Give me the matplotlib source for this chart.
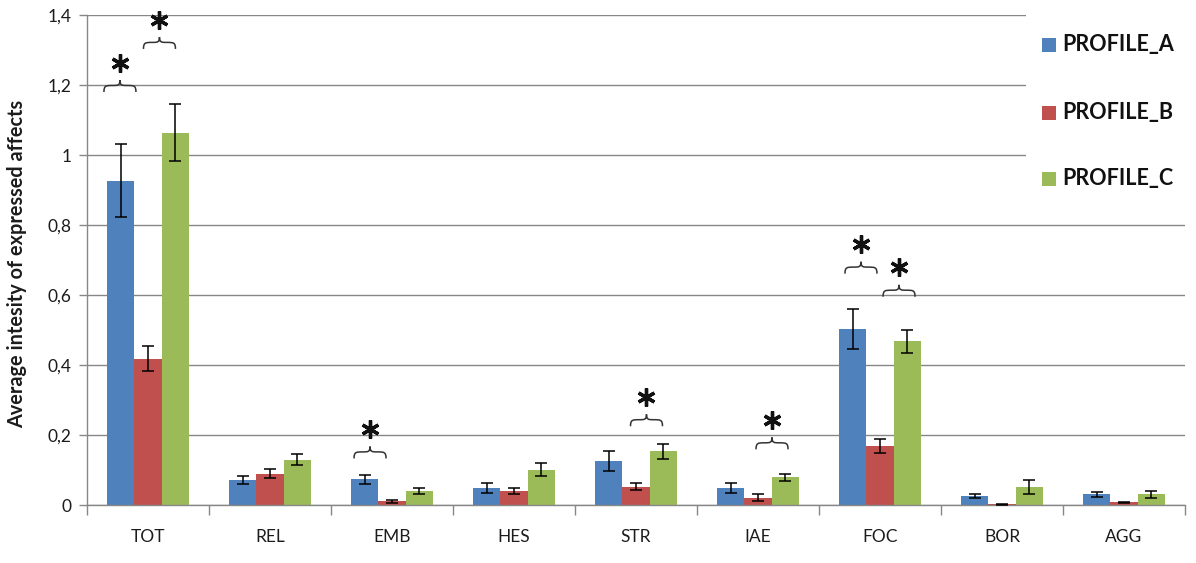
import matplotlib
matplotlib.use("Agg")
import matplotlib.pyplot as plt
import numpy as np
from matplotlib.path import Path
from matplotlib.patches import PathPatch, Rectangle

categories = ["TOT", "REL", "EMB", "HES", "STR", "IAE", "FOC", "BOR", "AGG"]
series_names = ["PROFILE_A", "PROFILE_B", "PROFILE_C"]
profile_a = [0.927, 0.072, 0.073, 0.049, 0.126, 0.049, 0.504, 0.025, 0.031]
profile_b = [0.418, 0.090, 0.011, 0.040, 0.052, 0.021, 0.169, 0.002, 0.008]
profile_c = [1.064, 0.130, 0.040, 0.101, 0.153, 0.080, 0.468, 0.051, 0.031]
err_a = [0.105, 0.011, 0.012, 0.014, 0.029, 0.014, 0.057, 0.006, 0.007]
err_b = [0.035, 0.013, 0.004, 0.008, 0.010, 0.0095, 0.020, 0.001, 0.002]
err_c = [0.082, 0.017, 0.008, 0.019, 0.022, 0.010, 0.033, 0.020, 0.010]
y_ticks = [0, 0.2, 0.4, 0.6, 0.8, 1.0, 1.2, 1.4]
y_tick_labels = ["0", "0,2", "0,4", "0,6", "0,8", "1", "1,2", "1,4"]

# significance marks: category index, horizontal offset (category units), brace tip height
sig_cat = [0, 0, 2, 4, 5, 6, 6]
sig_off = [-0.23, 0.094, -0.18, 0.086, 0.115, -0.156, 0.156]
sig_tip = [1.214, 1.337, 0.167, 0.259, 0.193, 0.695, 0.629]

colors = ["#4F81BD", "#C0504D", "#9BBB59"]
grid_col = "#878787"
txt_col = "#1c1c1c"

plt.rcParams["font.family"] = ["Lato", "DejaVu Sans"]

W, H = 1196, 563
fig = plt.figure(figsize=(W / 100, H / 100), dpi=100)
ax = fig.add_axes([87 / W, 1 - 505 / H, 1098 / W, 490 / H])

x = np.arange(len(categories)) + 0.5
bw = 0.224
vals = [profile_a, profile_b, profile_c]
errs = [err_a, err_b, err_c]
bars = []
for i, (v, e) in enumerate(zip(vals, errs)):
    xs = x + (i - 1) * bw
    b = ax.bar(xs, v, width=bw, color=colors[i], zorder=2, label=series_names[i])
    bars.append(b)
    ax.errorbar(xs, v, yerr=e, fmt="none", ecolor="black", elinewidth=1.1,
                capsize=4.5, capthick=1.1, zorder=3)

ax.set_xlim(0, len(categories))
ax.set_ylim(0, 1.4)
ax.set_yticks(y_ticks)
ax.set_yticklabels(y_tick_labels, fontsize=12.5, color=txt_col)
ax.yaxis.grid(True, color=grid_col, linewidth=1.0, zorder=0)
ax.set_axisbelow(True)

ax.set_xticks(np.arange(len(categories) + 1))
ax.set_xticklabels([])
ax.set_xticks(x, minor=True)
ax.set_xticklabels(categories, minor=True, fontsize=12.5, color=txt_col)
ax.tick_params(axis="x", which="major", length=7, width=1, color=grid_col, direction="out")
ax.tick_params(axis="x", which="minor", length=0, pad=17)
ax.tick_params(axis="y", length=6, width=1, color=grid_col, pad=5)

for s in ["top", "right"]:
    ax.spines[s].set_visible(False)
for s in ["left", "bottom"]:
    ax.spines[s].set_color(grid_col)
    ax.spines[s].set_linewidth(1.0)

ax.set_ylabel("Average intesity of expressed affects", fontsize=14.3, fontweight="bold",
              color=txt_col, va="center")
ax.yaxis.set_label_coords(-70 / 1098, (505 - 264) / 490)


def brace(ax, xc, ytip, w=0.262, h=0.034):
    # horizontal curly brace, tip pointing up
    x0, x1 = xc - w / 2, xc + w / 2
    ym = ytip - h * 0.45
    yb = ytip - h
    verts = [
        (x0, yb),
        (x0, ym), (x0 + 0.06 * w, ym), (xc - 0.22 * w, ym),
        (xc - 0.06 * w, ym), (xc, ym), (xc, ytip),
        (xc, ym), (xc + 0.06 * w, ym), (xc + 0.22 * w, ym),
        (x1 - 0.06 * w, ym), (x1, ym), (x1, yb),
    ]
    codes = [Path.MOVETO] + [Path.CURVE4] * 12
    ax.add_patch(PathPatch(Path(verts, codes), facecolor="none", edgecolor="#333333",
                           linewidth=1.1, zorder=4, clip_on=False))


for c, off, tip in zip(sig_cat, sig_off, sig_tip):
    xc = x[c] + off
    brace(ax, xc, tip)
    ax.plot([xc], [tip + 0.05], marker=(6, 2, 0), markersize=13, markeredgewidth=2.4,
            color="#111111", zorder=5, clip_on=False)

# white background of legend region
fig.patches.append(Rectangle((1026 / W, 1 - 212 / H), (W - 1026) / W, 212 / H,
                             transform=fig.transFigure, facecolor="white",
                             edgecolor="none", zorder=5))

# legend entries
leg_y = [45, 113, 179]
for i, name in enumerate(series_names):
    fig.patches.append(Rectangle((1042 / W, 1 - (leg_y[i] + 7) / H), 14 / W, 14 / H,
                                 transform=fig.transFigure, facecolor=colors[i],
                                 edgecolor="none", zorder=6))
    fig.text(1062 / W, 1 - leg_y[i] / H, name, fontsize=15.5, fontweight="bold",
             color="#111111", va="center", ha="left", zorder=7)

fig.savefig("out.png", dpi=100)
